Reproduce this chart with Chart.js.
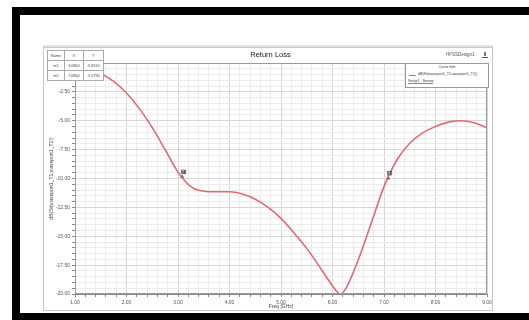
<!DOCTYPE html>
<html>
<head>
<meta charset="utf-8">
<script src="https://cdn.jsdelivr.net/npm/chart.js@4.4.1/dist/chart.umd.min.js"></script>
<style>
  html, body { margin: 0; padding: 0; background: #fff; overflow: hidden; }
  body { width: 529px; height: 320px; position: relative; font-family: "Liberation Sans", Arial, sans-serif; }
  .bar { position: absolute; background: #000; }
  #barTop { left: 12px; top: 7px; width: 517px; height: 8px; }
  #barLeft { left: 12px; top: 7px; width: 8px; height: 313px; }
  #barBottom { left: 12px; top: 313px; width: 517px; height: 7px; }
  #panel { position: absolute; left: 43px; top: 47px; width: 448px; height: 262px; border: 1px solid #c8c8c8; box-shadow: 0 -2px 0 #e4e4e4; }
  #chart { position: absolute; left: 0; top: 0; }
  .txt { position: absolute; white-space: nowrap; color: #333; }
  #title { left: 0; width: 529px; top: 50px; text-align: center; font-size: 7.5px; color: #222; padding-left: 12px; box-sizing: border-box; }
  #design { left: 446px; top: 52px; font-size: 4.5px; color: #555; }
  #logo { position: absolute; left: 482px; top: 52px; width: 6px; height: 5px; border-bottom: 1px solid #555; }
  #logo:before { content: ""; position: absolute; left: 2px; top: 0; width: 2px; height: 4px; background: #777; }
  #markers { position: absolute; left: 47px; top: 50px; width: 57px; border-collapse: collapse; background: #fff; font-size: 3.8px; color: #444; }
  #markers td { border: 1px solid #aaa; padding: 0 1px; height: 9px; text-align: center; }
  #legend { position: absolute; left: 405px; top: 63px; width: 82px; height: 23px; background: #fff; border: 1px solid #999; font-size: 3.6px; color: #444; }
</style>
</head>
<body>
<div class="bar" id="barTop"></div>
<div class="bar" id="barLeft"></div>
<div class="bar" id="barBottom"></div>
<div id="panel"></div>
<canvas id="chart" width="529" height="320"></canvas>
<div class="txt" id="title">Return Loss</div>
<div class="txt" id="design">HFSSDesign1</div>
<div id="logo"></div>
<table id="markers">
  <tr><td>Name</td><td>X</td><td>Y</td></tr>
  <tr><td>m1</td><td>3.0800</td><td>-9.8510</td></tr>
  <tr><td>m2</td><td>7.0800</td><td>-9.9790</td></tr>
</table>
<div id="legend">
  <div class="txt" style="left:0;width:82px;top:1px;text-align:center;">Curve Info</div>
  <div style="position:absolute;left:3px;top:11px;width:7px;height:1px;background:#e06470;"></div>
  <div class="txt" style="left:12px;top:8px;">dB(St(waveport1_T1,waveport1_T1))</div>
  <div class="txt" style="left:2px;top:15px;border-bottom:1px solid #888;">Setup1 : Sweep</div>
</div>

<script>
// Return loss curve
const freqGHz = [1.00, 1.25, 1.50, 1.75, 2.00, 2.25, 2.50, 2.75, 3.00, 3.25, 3.50, 3.75,
  4.00, 4.25, 4.50, 4.75, 5.00, 5.25, 5.50, 5.75, 6.00, 6.10, 6.15, 6.25, 6.50, 6.75,
  7.00, 7.25, 7.50, 7.75, 8.00, 8.25, 8.50, 8.75, 9.00];
const returnLossDb = [-0.25, -0.45, -0.90, -1.60, -2.60, -3.95, -5.60, -7.50, -9.45, -10.70, -11.10, -11.15,
  -11.15, -11.35, -11.80, -12.50, -13.45, -14.70, -16.05, -17.65, -19.30, -19.85, -20.00, -19.60, -17.05, -13.90,
  -10.70, -8.40, -6.95, -6.05, -5.50, -5.12, -5.00, -5.18, -5.60];

const markerNames = ["m1", "m2"];
const markerFreq = [3.08, 7.08];
const markerDb = [-9.85, -9.98];

const xMin = 1, xMax = 9, xStep = 0.2;
const yMin = -20, yMax = 0, yStep = 0.5;

const curveColor = "#e26873";

function isMultiple(v, m) {
  const r = v / m;
  return Math.abs(r - Math.round(r)) < 1e-6;
}

// plot frame + marker labels
const frameAndMarkers = {
  id: "frameAndMarkers",
  afterDatasetsDraw(chart) {
    const { ctx, chartArea, scales } = chart;
    ctx.save();
    ctx.strokeStyle = "#9a9a9a";
    ctx.lineWidth = 1;
    ctx.strokeRect(chartArea.left + 0.5, chartArea.top + 0.5,
      chartArea.right - chartArea.left - 1, chartArea.bottom - chartArea.top - 1);

    ctx.font = "5px 'Liberation Sans', Arial, sans-serif";
    ctx.fillStyle = "#333";
    markerNames.forEach((name, i) => {
      const px = scales.x.getPixelForValue(markerFreq[i]);
      const py = scales.y.getPixelForValue(markerDb[i]);
      ctx.fillRect(px - 1, py - 7, 5, 4);
      ctx.fillStyle = "#fff";
      ctx.fillText(name, px - 0.5, py - 3.5);
      ctx.fillStyle = "#333";
    });
    ctx.restore();
  }
};

new Chart(document.getElementById("chart"), {
  type: "line",
  data: {
    datasets: [
      {
        label: "dB(St(waveport1_T1,waveport1_T1))",
        data: freqGHz.map((f, i) => ({ x: f, y: returnLossDb[i] })),
        borderColor: curveColor,
        borderWidth: 1.6,
        pointRadius: 0,
        cubicInterpolationMode: "monotone"
      },
      {
        label: "markers",
        data: markerFreq.map((f, i) => ({ x: f, y: markerDb[i] })),
        showLine: false,
        pointStyle: "triangle",
        pointRadius: 1.5,
        backgroundColor: "#444",
        borderColor: "#444"
      }
    ]
  },
  options: {
    responsive: false,
    animation: false,
    devicePixelRatio: 1,
    layout: { padding: { left: 40, right: 42, top: 63, bottom: 6 } },
    plugins: {
      legend: { display: false },
      tooltip: { enabled: false }
    },
    scales: {
      x: {
        type: "linear",
        min: xMin,
        max: xMax,
        afterFit(scale) { scale.height = 20; },
        afterBuildTicks(scale) {
          const ticks = [];
          for (let v = xMin; v <= xMax + 1e-9; v += xStep) ticks.push({ value: Math.round(v * 100) / 100 });
          scale.ticks = ticks;
        },
        ticks: {
          autoSkip: false,
          maxRotation: 0,
          padding: 3,
          color: "#555",
          font: { size: 5 },
          callback: v => isMultiple(v, 1) ? v.toFixed(2) : ""
        },
        grid: {
          color: ctx => isMultiple(ctx.tick.value, 1) ? "#d6d6d6" : "#ebebeb",
          tickColor: "#888",
          tickLength: 3,
          lineWidth: 1
        },
        border: { color: "#888" },
        title: {
          display: true,
          text: "Freq [GHz]",
          color: "#444",
          font: { size: 5 },
          padding: { top: 0, bottom: 4 }
        }
      },
      y: {
        min: yMin,
        max: yMax,
        afterFit(scale) { scale.width = 35; },
        afterBuildTicks(scale) {
          const ticks = [];
          for (let v = yMin; v <= yMax + 1e-9; v += yStep) ticks.push({ value: Math.round(v * 100) / 100 });
          scale.ticks = ticks;
        },
        ticks: {
          autoSkip: false,
          padding: 2,
          color: "#555",
          font: { size: 5 },
          callback: v => isMultiple(v, 2.5) ? v.toFixed(2) : ""
        },
        grid: {
          color: ctx => isMultiple(ctx.tick.value, 2.5) ? "#d6d6d6" : "#ebebeb",
          tickColor: "#888",
          tickLength: 3,
          lineWidth: 1
        },
        border: { color: "#888" },
        title: {
          display: true,
          text: "dB(St(waveport1_T1,waveport1_T1))",
          color: "#444",
          font: { size: 5 },
          padding: { top: 9, bottom: 0 }
        }
      }
    }
  },
  plugins: [frameAndMarkers]
});
</script>
</body>
</html>
